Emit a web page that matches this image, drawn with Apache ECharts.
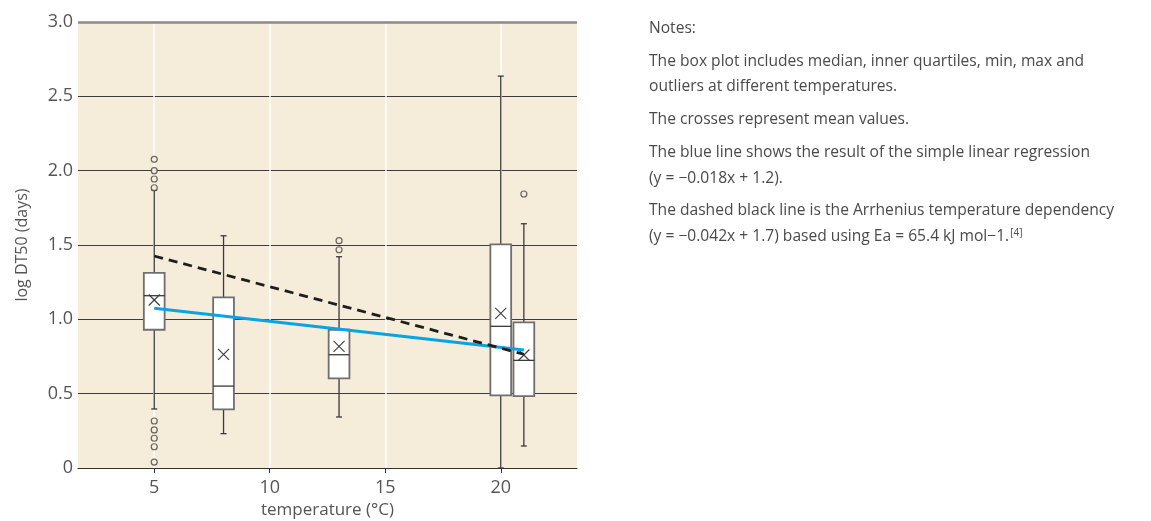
<!DOCTYPE html>
<html>
<head>
<meta charset="utf-8">
<script src="https://cdn.jsdelivr.net/npm/echarts@6/dist/echarts.min.js"></script>
<style>
html,body{margin:0;padding:0;background:#fff;}
#c{width:1151px;height:521px;}
</style>
</head>
<body>
<div id="c"></div>
<script>
// ---- data ----
const temps   = [5, 8, 13, 20, 21];
const mins    = [0.397, 0.231, 0.343, 0.0, 0.148];
const q1s     = [0.930, 0.395, 0.603, 0.489, 0.484];
const medians = [1.159, 0.551, 0.762, 0.953, 0.724];
const q3s     = [1.313, 1.148, 0.930, 1.504, 0.980];
const maxs    = [1.870, 1.562, 1.421, 2.636, 1.643];
const means   = [1.130, 0.765, 0.818, 1.040, 0.760];
const outliers = [[5,2.076],[5,2.0],[5,1.944],[5,1.885],[5,0.316],[5,0.256],[5,0.200],[5,0.143],[5,0.040],[13,1.529],[13,1.468],[21,1.843]];
const regressionLine = [[5,1.074],[21,0.794]];
const arrheniusLine = [[5,1.426],[21,0.765]];
const xTicks = [5, 10, 15, 20];
const yTicks = [0, 0.5, 1.0, 1.5, 2.0, 2.5, 3.0];
const notes = [
  'Notes:',
  'The box plot includes median, inner quartiles, min, max and',
  'outliers at different temperatures.',
  'The crosses represent mean values.',
  'The blue line shows the result of the simple linear regression',
  '(y = \u22120.018x + 1.2).',
  'The dashed black line is the Arrhenius temperature dependency',
  '(y = \u22120.042x + 1.7) based using Ea = 65.4 kJ mol\u22121.{sup|[4]}'
];
const noteY = [29, 62, 87, 120, 153, 179, 211, 237];

const boxData = temps.map((t, i) => [t, mins[i], q1s[i], medians[i], q3s[i], maxs[i], means[i]]);

const FONT = '"Open Sans", Lato, sans-serif';
const TXT = '#555';

const chart = echarts.init(document.getElementById('c'), null, {renderer: 'canvas'});

function renderBox(params, api) {
  const x = api.value(0);
  const pMin = api.coord([x, api.value(1)]);
  const pQ1 = api.coord([x, api.value(2)]);
  const pMed = api.coord([x, api.value(3)]);
  const pQ3 = api.coord([x, api.value(4)]);
  const pMax = api.coord([x, api.value(5)]);
  const pMean = api.coord([x, api.value(6)]);
  const w = api.size([0.9, 0])[0];
  const cx = pQ1[0];
  const cap = 3;
  const cr = 5.5;
  const dark = '#3a3a3a';
  return {
    type: 'group',
    children: [
      {type: 'line', shape: {x1: cx, y1: pMin[1], x2: cx, y2: pMax[1]}, style: {stroke: dark, lineWidth: 1.3}},
      {type: 'line', shape: {x1: cx - cap, y1: pMax[1], x2: cx + cap, y2: pMax[1]}, style: {stroke: dark, lineWidth: 1.3}},
      {type: 'line', shape: {x1: cx - cap, y1: pMin[1], x2: cx + cap, y2: pMin[1]}, style: {stroke: dark, lineWidth: 1.3}},
      {type: 'rect', shape: {x: cx - w / 2, y: pQ3[1], width: w, height: pQ1[1] - pQ3[1]}, style: {fill: '#fff', stroke: '#6f6f6f', lineWidth: 1.8}},
      {type: 'line', shape: {x1: cx - w / 2, y1: pMed[1], x2: cx + w / 2, y2: pMed[1]}, style: {stroke: dark, lineWidth: 1.3}},
      {type: 'line', shape: {x1: cx - cr, y1: pMean[1] - cr, x2: cx + cr, y2: pMean[1] + cr}, style: {stroke: dark, lineWidth: 1.1}},
      {type: 'line', shape: {x1: cx - cr, y1: pMean[1] + cr, x2: cx + cr, y2: pMean[1] - cr}, style: {stroke: dark, lineWidth: 1.1}}
    ]
  };
}

const graphics = notes.map((t, i) => ({
  type: 'text',
  x: 649,
  y: noteY[i],
  style: {
    text: t,
    font: '15.6px ' + FONT,
    fill: '#4a4a4a',
    verticalAlign: 'middle',
    rich: {
      sup: {fontSize: 10, fill: '#4a4a4a', fontFamily: FONT, verticalAlign: 'top', padding: [0, 0, 8, 1]}
    }
  }
}));

chart.setOption({
  animation: false,
  backgroundColor: '#fff',
  grid: {left: 78, right: 574, top: 22, bottom: 53, show: true, backgroundColor: '#f5ecda', borderWidth: 0,
    containLabel: false, outerBoundsMode: 'none'},
  xAxis: {
    type: 'value', min: 1.7, max: 23.3,
    name: 'temperature (\u00b0C)', nameLocation: 'middle', nameGap: 34,
    nameTextStyle: {fontFamily: FONT, fontSize: 17, color: TXT},
    axisLine: {show: true, lineStyle: {color: '#333', width: 1.2}},
    axisTick: {show: true, length: 5, lineStyle: {color: '#333'}, customValues: xTicks},
    axisLabel: {fontFamily: FONT, fontSize: 18, color: TXT, margin: 11, customValues: xTicks},
    splitLine: {show: false}
  },
  yAxis: {
    type: 'value', min: 0, max: 3, interval: 0.5,
    name: 'log DT50 (days)', nameLocation: 'middle', nameGap: 48,
    nameTextStyle: {fontFamily: FONT, fontSize: 16, color: TXT},
    axisLine: {show: false}, axisTick: {show: false},
    axisLabel: {fontFamily: FONT, fontSize: 18, color: TXT, margin: 5,
      formatter: v => v === 0 ? '0' : v.toFixed(1)},
    splitLine: {show: true, lineStyle: {color: '#3c3c3c', width: 1}}
  },
  graphic: graphics,
  series: [
    {
      type: 'line', data: [], z: 1, silent: true,
      markLine: {
        silent: true, symbol: 'none', label: {show: false}, animation: false, z: 1,
        data: xTicks.map(v => ({xAxis: v, lineStyle: {color: '#ffffff', width: 1.5, type: 'solid'}}))
          .concat([{yAxis: yTicks[yTicks.length - 1], lineStyle: {color: '#8a8a8a', width: 2.5, type: 'solid'}}])
      }
    },
    {
      type: 'custom', renderItem: renderBox, data: boxData, z: 10, silent: true,
      encode: {x: 0, y: [1, 2, 3, 4, 5, 6]}
    },
    {
      type: 'scatter', data: outliers, z: 11, symbol: 'circle', symbolSize: 6,
      itemStyle: {color: '#f5ecda', borderColor: '#444', borderWidth: 1.2}
    },
    {
      type: 'line', data: regressionLine, z: 12, symbol: 'none',
      lineStyle: {color: '#0aa3e3', width: 3}
    },
    {
      type: 'line', data: arrheniusLine, z: 13, symbol: 'none',
      lineStyle: {color: '#1e1e1e', width: 2.8, type: [9, 6]}
    }
  ]
});
</script>
</body>
</html>
